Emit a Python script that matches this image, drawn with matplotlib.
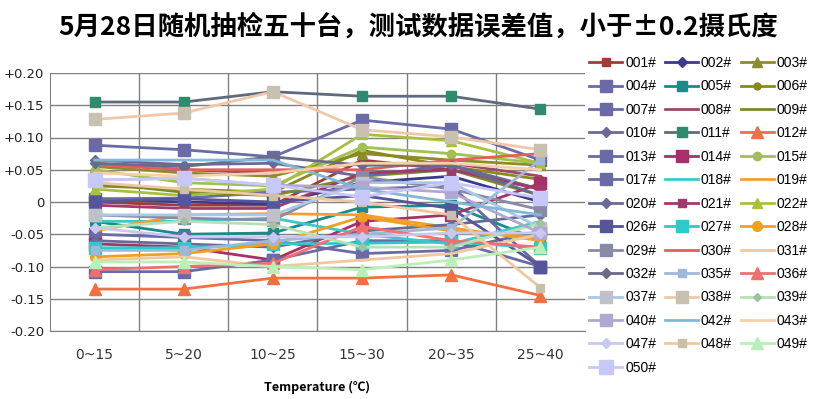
import matplotlib
matplotlib.use('Agg')
import matplotlib.pyplot as plt
import numpy as np

plt.rcParams['font.family'] = ['Noto Sans CJK SC', 'DejaVu Sans']

categories = ['0~15', '5~20', '10~25', '15~30', '20~35', '25~40']
names = ['001#', '002#', '003#', '004#', '005#', '006#', '007#', '008#', '009#', '010#',
         '011#', '012#', '013#', '014#', '015#', '017#', '018#', '019#', '020#', '021#',
         '022#', '026#', '027#', '028#', '029#', '030#', '031#', '032#', '035#', '036#',
         '037#', '038#', '039#', '040#', '042#', '043#', '047#', '048#', '049#', '050#']

# error values (deg C)
e001 = [0.000, -0.005, -0.005, 0.065, 0.050, 0.020]
e002 = [0.005, 0.000, -0.003, 0.030, 0.040, 0.000]
e003 = [0.055, 0.045, 0.040, 0.075, 0.065, 0.057]
e004 = [0.088, 0.081, 0.070, 0.127, 0.113, 0.065]
e005 = [-0.030, -0.050, -0.048, -0.008, -0.005, -0.060]
e006 = [0.025, 0.020, 0.015, 0.080, 0.055, 0.035]
e007 = [0.005, 0.006, 0.015, 0.020, 0.025, -0.100]
e008 = [0.060, 0.050, 0.045, 0.060, 0.060, 0.040]
e009 = [0.030, 0.015, 0.010, 0.040, 0.050, 0.010]
e010 = [0.065, 0.058, 0.060, 0.040, 0.057, 0.020]
e011 = [0.155, 0.155, 0.171, 0.164, 0.164, 0.144]
e012 = [-0.135, -0.135, -0.118, -0.118, -0.113, -0.145]
e013 = [-0.050, -0.055, -0.060, -0.080, -0.075, -0.045]
e014 = [-0.065, -0.070, -0.090, -0.030, -0.020, 0.029]
e015 = [0.050, 0.030, 0.025, 0.085, 0.075, 0.060]
e017 = [-0.108, -0.108, -0.090, -0.060, -0.060, -0.100]
e018 = [-0.030, -0.030, -0.025, -0.050, -0.065, -0.030]
e019 = [-0.045, -0.020, -0.018, -0.020, -0.040, -0.060]
e020 = [-0.060, -0.065, -0.070, -0.045, -0.035, -0.020]
e021 = [-0.005, -0.010, -0.010, 0.045, 0.050, 0.020]
e022 = [0.020, 0.010, 0.020, 0.105, 0.095, 0.060]
e026 = [0.000, 0.005, 0.000, 0.010, -0.010, -0.100]
e027 = [-0.071, -0.071, -0.065, -0.064, -0.062, -0.071]
e028 = [-0.085, -0.080, -0.065, -0.023, -0.045, -0.055]
e029 = [-0.020, -0.025, -0.028, 0.039, 0.020, -0.012]
e030 = [0.058, 0.050, 0.050, 0.050, 0.065, 0.075]
e031 = [-0.090, -0.085, -0.100, -0.090, -0.080, -0.050]
e032 = [0.060, 0.055, 0.070, 0.057, 0.057, 0.010]
e035 = [-0.075, -0.075, -0.060, -0.050, -0.040, 0.065]
e036 = [-0.105, -0.100, -0.095, -0.038, -0.060, -0.070]
e037 = [-0.020, -0.020, -0.020, 0.030, 0.030, -0.040]
e038 = [0.128, 0.138, 0.171, 0.112, 0.101, 0.081]
e039 = [-0.040, -0.030, -0.035, -0.070, -0.070, -0.033]
e040 = [0.034, 0.037, 0.026, 0.023, 0.015, -0.048]
e042 = [0.065, 0.065, 0.065, 0.020, 0.000, -0.020]
e043 = [0.045, 0.040, 0.045, 0.060, 0.060, 0.050]
e047 = [-0.040, -0.054, -0.054, -0.054, -0.048, -0.048]
e048 = [0.030, 0.020, 0.010, 0.000, -0.020, -0.133]
e049 = [-0.093, -0.093, -0.100, -0.105, -0.090, -0.070]
e050 = [0.034, 0.037, 0.026, 0.008, 0.030, 0.006]

series = [e001, e002, e003, e004, e005, e006, e007, e008, e009, e010,
          e011, e012, e013, e014, e015, e017, e018, e019, e020, e021,
          e022, e026, e027, e028, e029, e030, e031, e032, e035, e036,
          e037, e038, e039, e040, e042, e043, e047, e048, e049, e050]

line_colors = ['#a33a3a', '#3a3a8c', '#8c8c2a', '#6a6aa6', '#1a8a8a', '#8a8a1a', '#6a6aa6', '#9a4a6a', '#7a8a2a', '#6a6a9a',
               '#5f6a80', '#f07040', '#6a6aa6', '#a8306a', '#a0c050', '#6a6aa6', '#40c8c8', '#f0a030', '#6a6a9a', '#a03a6a',
               '#a8c040', '#555599', '#30c8c8', '#f0a020', '#8a8aa8', '#e06060', '#f0c8a0', '#6a6a8a', '#a0b8d8', '#f07070',
               '#a8c8e8', '#f0c8a8', '#b8e0b8', '#b0a8d0', '#80b8d8', '#f8d0a8', '#c8c8f0', '#f0c8a0', '#b8f0b8', '#c8c8f8']
marker_colors = ['#a33a3a', '#3a3a8c', '#8c8c2a', '#6a6aa6', '#1a8a8a', '#8a8a1a', '#6a6aa6', '#9a4a6a', '#7a8a2a', '#6a6a9a',
                 '#2e8b6e', '#f07040', '#6a6aa6', '#a8306a', '#a0c050', '#6a6aa6', '#40c8c8', '#f0a030', '#6a6a9a', '#a03a6a',
                 '#a8c040', '#555599', '#30c8c8', '#f0a020', '#8a8aa8', '#e06060', '#f0c8a0', '#6a6a8a', '#a0b8d8', '#f07070',
                 '#c0c0c8', '#c8c0b0', '#a0c0a0', '#b0a8d0', '#80b8d8', '#f8d0a8', '#c8c8f0', '#c8c0a8', '#b8f0b8', '#c8c8f8']
markers = ['s', 'D', '^', 's', 's', 'o', 's', '', '', 'D',
           's', '^', 's', 's', 'o', 's', '', '', 'D', 's',
           '^', 's', 's', 'o', 's', '', '', 'D', 's', '^',
           's', 's', 'D', 's', '', '', 'D', 's', '^', 's']
msizes = [6, 5, 7, 9, 7, 5, 9, 0, 0, 5,
          7, 8, 9, 8, 6, 9, 0, 0, 5, 6,
          7, 9, 8, 7, 8, 0, 0, 5, 6, 8,
          9, 8, 4, 9, 0, 0, 5, 6, 8, 10]

fig = plt.figure(figsize=(8.16, 3.99), dpi=100)
ax = fig.add_axes([50/816, 1-331/399, 535/816, 258/399])

x = np.arange(len(categories))
handles = []
for i in range(len(series)):
    h, = ax.plot(x, series[i], color=line_colors[i], lw=2,
                 marker=markers[i] if markers[i] else None, ms=msizes[i],
                 markerfacecolor=marker_colors[i], markeredgecolor=marker_colors[i],
                 label=names[i])
    handles.append(h)

ax.set_xlim(-0.5, len(categories)-0.5)
ax.set_ylim(-0.2, 0.2)
yt = [0.20, 0.15, 0.10, 0.05, 0, -0.05, -0.10, -0.15, -0.20]
ax.set_yticks(yt)
ax.set_yticklabels(['+0.20', '+0.15', '+0.10', '+0.05', '0', '-0.05', '-0.10', '-0.15', '-0.20'],
                   fontsize=9.5, family='DejaVu Sans', color='#222222')
ax.set_xticks(x)
ax.set_xticklabels(categories, fontsize=10, family='DejaVu Sans', color='#333333')
ax.set_xticks(np.arange(0.5, len(categories)-0.5, 1), minor=True)
ax.tick_params(axis='both', which='both', length=0)
ax.tick_params(axis='x', pad=12)
ax.tick_params(axis='y', pad=4)
ax.grid(True, axis='y', which='major', color='#808080', lw=1)
ax.grid(True, axis='x', which='minor', color='#808080', lw=1)
ax.set_axisbelow(True)
for s in ['top', 'right']:
    ax.spines[s].set_visible(False)
ax.spines['left'].set_color('#808080')
ax.spines['bottom'].set_color('#808080')

ax.set_xlabel('Temperature (℃)', fontsize=9, fontweight='bold', labelpad=14)

fig.text(418/816, 1-27/399, '5月28日随机抽检五十台，测试数据误差值，小于±0.2摄氏度',
         ha='center', va='center', fontsize=19, fontweight='bold')

order = list(range(0, 40, 3)) + list(range(1, 40, 3)) + list(range(2, 40, 3))
leg = fig.legend([handles[i] for i in order], [names[i] for i in order],
                 loc='upper left', bbox_to_anchor=(589/816, 1-56/399), ncol=3,
                 frameon=False, prop={'family': 'Liberation Sans', 'size': 10},
                 handlelength=2.4, handletextpad=0.2, columnspacing=0.62,
                 labelspacing=0.68, borderpad=0, borderaxespad=0)

fig.savefig('out.png', dpi=100)
